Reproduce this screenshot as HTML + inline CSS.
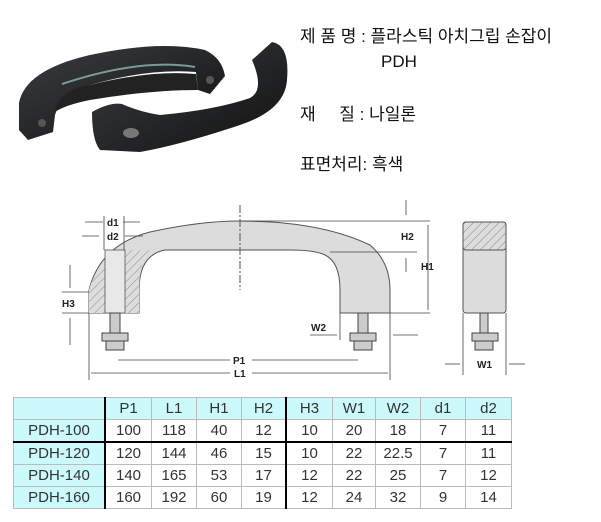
<!DOCTYPE html>
<html><head><meta charset="utf-8"><style>
body{margin:0;width:601px;height:522px;background:#fff;position:relative;overflow:hidden;font-family:"Liberation Sans","Noto Sans CJK KR","NanumGothic",sans-serif;}
.t{position:absolute;font-size:17px;color:#111;white-space:nowrap;line-height:20px;}
table{position:absolute;left:13px;top:397px;border-collapse:collapse;font-size:15px;color:#333;}
td{border:1px solid #bbb;text-align:center;height:21px;padding:0;}
.c{background:#ccf9fc;}
</style></head><body>
<svg width="601" height="522" style="position:absolute;left:0;top:0">
<defs>
<pattern id="h" width="6" height="6" patternUnits="userSpaceOnUse" patternTransform="rotate(45)"><rect width="6" height="6" fill="#ddd"/><line x1="0" y1="0" x2="0" y2="6" stroke="#888" stroke-width="1"/></pattern>
<linearGradient id="g1" x1="0" y1="0" x2="1" y2="1"><stop offset="0" stop-color="#3a3d40"/><stop offset="1" stop-color="#111"/></linearGradient>
</defs>
<!-- photo -->
<path d="M19 103 Q25 70 90 55 Q160 40 205 50 Q222 58 225 76 L210 94 L198 90 L196 72 Q150 68 90 85 Q60 95 55 115 L53 132 L28 140 L19 130 Z" fill="url(#g1)"/>
<path d="M55 110 Q60 90 90 85 Q150 70 196 74 L198 90 Q150 90 90 100 Q65 105 55 112 Z" fill="#222"/>
<path d="M62 84 Q140 58 195 67" stroke="#7a9a9a" stroke-width="2" fill="none"/>
<ellipse cx="42" cy="123" rx="4" ry="4" fill="#555"/>
<ellipse cx="210" cy="80" rx="4" ry="4" fill="#555"/>
<path d="M92 112 Q110 102 122 104 Q140 112 160 115 Q215 110 250 98 Q265 90 252 60 L272 42 Q290 45 287 80 Q285 110 240 125 Q180 145 140 152 L100 150 Q92 140 92 112 Z" fill="url(#g1)"/>
<ellipse cx="131" cy="133" rx="8" ry="5" fill="#777"/>
<!-- handle drawing -->
<path d="M89 313 L89 290 Q100 245 150 232 Q200 221 240 221 Q320 221 370 245 Q390 262 390 290 L390 313 L340 313 L340 290 Q340 262 325 255 Q315 250 290 250 L165 250 Q139 255 139 290 L139 313 Z" fill="#dcdcdc" stroke="#555" stroke-width="1"/>
<path d="M89 313 L89 290 Q95 265 123 250 L139 250 L139 313 Z" fill="url(#h)"/>
<path d="M100 252 L150 250 Q139 265 139 290 L139 313 L128 313 L128 252 Z" fill="url(#h)"/>
<rect x="105" y="250" width="20" height="63" fill="#e8e8e8" stroke="#555" stroke-width="0.8"/>
<line x1="240" y1="205" x2="240" y2="290" stroke="#555" stroke-dasharray="8,2,2,2"/>
<rect x="110" y="313" width="10" height="20" fill="#ccc" stroke="#444"/>
<rect x="102" y="333" width="26" height="8" fill="#ccc" stroke="#444"/>
<rect x="106" y="341" width="18" height="9" fill="#ccc" stroke="#444"/>
<rect x="358" y="313" width="10" height="20" fill="#ccc" stroke="#444"/>
<rect x="350" y="333" width="26" height="8" fill="#ccc" stroke="#444"/>
<rect x="354" y="341" width="18" height="9" fill="#ccc" stroke="#444"/>
<rect x="463" y="222" width="43" height="91" rx="3" fill="#dcdcdc" stroke="#555"/>
<rect x="463" y="222" width="43" height="28" rx="3" fill="url(#h)" stroke="#555"/>
<rect x="480" y="313" width="8" height="20" fill="#ccc" stroke="#444"/>
<rect x="472" y="333" width="26" height="8" fill="#ccc" stroke="#444"/>
<rect x="475" y="341" width="18" height="9" fill="#ccc" stroke="#444"/>
<g stroke="#444" stroke-width="0.8" fill="none">
<line x1="240" y1="221" x2="430" y2="221"/><line x1="330" y1="252" x2="417" y2="252"/>
<line x1="390" y1="313" x2="430" y2="313"/>
<line x1="428" y1="225" x2="428" y2="310"/><line x1="406" y1="200" x2="406" y2="215"/><line x1="406" y1="258" x2="406" y2="272"/>
<line x1="62" y1="292" x2="89" y2="292"/><line x1="62" y1="313" x2="89" y2="313"/>
<line x1="70" y1="265" x2="70" y2="288"/><line x1="70" y1="318" x2="70" y2="345"/>
<line x1="118" y1="360" x2="230" y2="360"/><line x1="252" y1="360" x2="358" y2="360"/>
<line x1="91" y1="373" x2="230" y2="373"/><line x1="252" y1="373" x2="388" y2="373"/>
<line x1="89" y1="313" x2="89" y2="380"/><line x1="390" y1="313" x2="390" y2="380"/>
<line x1="340" y1="313" x2="340" y2="340"/>
<line x1="463" y1="313" x2="463" y2="375"/><line x1="506" y1="313" x2="506" y2="375"/>
<line x1="445" y1="364" x2="460" y2="364"/><line x1="509" y1="364" x2="525" y2="364"/>
<line x1="310" y1="335" x2="337" y2="335"/><line x1="393" y1="335" x2="418" y2="335"/>
<line x1="85" y1="222" x2="103" y2="222"/><line x1="123" y1="222" x2="140" y2="222"/>
<line x1="82" y1="236" x2="99" y2="236"/><line x1="125" y1="236" x2="143" y2="236"/>
<line x1="104" y1="216" x2="104" y2="250"/><line x1="124" y1="216" x2="124" y2="250"/>
</g>
<g font-family="Liberation Sans" font-weight="bold" font-size="10" fill="#222">
<text x="401" y="240">H2</text><text x="421" y="270">H1</text><text x="62" y="307">H3</text>
<text x="233" y="364">P1</text><text x="234" y="377">L1</text><text x="477" y="368">W1</text>
<text x="311" y="331">W2</text><text x="107" y="226">d1</text><text x="107" y="240">d2</text>
</g>
</svg>
<div class="t" style="left:300px;top:27px">제 품 명 : 플라스틱 아치그립 손잡이</div>
<div class="t" style="left:381px;top:52px">PDH</div>
<div class="t" style="left:300px;top:105px">재&nbsp;&nbsp;&nbsp;&nbsp;&nbsp;질 : 나일론</div>
<div class="t" style="left:300px;top:155px">표면처리: 흑색</div>
<table>
<tr><td class="c" style="width:90px;border-right:2px solid #000"></td><td class="c" style="width:45px">P1</td><td class="c" style="width:44px">L1</td><td class="c" style="width:44px">H1</td><td class="c" style="width:43px;border-right:2px solid #000">H2</td><td class="c" style="width:45px">H3</td><td class="c" style="width:42px">W1</td><td class="c" style="width:44px">W2</td><td class="c" style="width:44px">d1</td><td class="c" style="width:45px">d2</td></tr>
<tr style="border-bottom:2px solid #000"><td class="c" style="border-right:2px solid #000">PDH-100</td><td>100</td><td>118</td><td>40</td><td style="border-right:2px solid #000">12</td><td>10</td><td>20</td><td>18</td><td>7</td><td>11</td></tr>
<tr><td class="c" style="border-right:2px solid #000">PDH-120</td><td>120</td><td>144</td><td>46</td><td style="border-right:2px solid #000">15</td><td>10</td><td>22</td><td>22.5</td><td>7</td><td>11</td></tr>
<tr><td class="c" style="border-right:2px solid #000">PDH-140</td><td>140</td><td>165</td><td>53</td><td style="border-right:2px solid #000">17</td><td>12</td><td>22</td><td>25</td><td>7</td><td>12</td></tr>
<tr><td class="c" style="border-right:2px solid #000">PDH-160</td><td>160</td><td>192</td><td>60</td><td style="border-right:2px solid #000">19</td><td>12</td><td>24</td><td>32</td><td>9</td><td>14</td></tr>
</table>
</body></html>
